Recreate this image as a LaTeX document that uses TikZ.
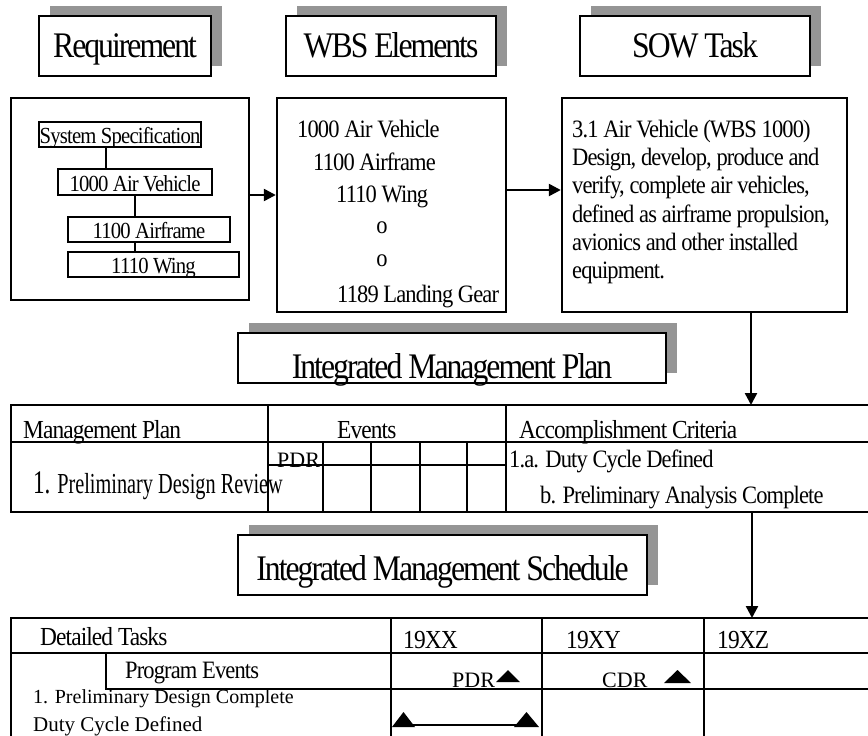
\documentclass[tikz,border=0pt]{standalone}
\usepackage{fontspec}
\setmainfont{Liberation Serif}[FakeStretch=0.9,LetterSpace=-3.5]
\newfontfamily\hdfont{Liberation Serif}[FakeStretch=0.88,LetterSpace=-5.5]
\newfontfamily\nfont{Liberation Serif}
\newfontfamily\cfont{Liberation Serif}[FakeStretch=0.7]
\usetikzlibrary{arrows.meta,shadows,calc}
\definecolor{shgray}{HTML}{959595}
\begin{document}
\begin{tikzpicture}[x=1pt,y=-1pt,
  hdr/.style={draw, line width=2.4pt, fill=white, inner sep=0pt,
    font=\hdfont\fontsize{36}{40}\selectfont,
    drop shadow={shadow xshift=10.5pt, shadow yshift=10.5pt, opacity=1, fill=shgray}},
  bigbox/.style={draw, line width=2.4pt, inner sep=0pt},
  minibox/.style={draw, line width=2pt, inner sep=0pt, font=\fontsize{23}{26}\selectfont,
    text height=18pt, text depth=0pt},
  txt/.style={inner sep=0pt, anchor=base west, font=\fontsize{25}{28}\selectfont},
  thd/.style={inner sep=0pt, anchor=base west, font=\fontsize{26}{28}\selectfont},
  ntxt/.style={inner sep=0pt, anchor=base west, font=\nfont\fontsize{22}{24}\selectfont},
  arr/.style={line width=2.4pt, -{Triangle[length=12pt,width=12pt]}},
  conn/.style={line width=2.4pt},
  grid/.style={line width=2.4pt, line cap=rect},
]
\useasboundingbox (0,0) rectangle (868,736);
\fill[white] (0,0) rectangle (868,736);

% header boxes
\node[hdr, minimum width=172pt, minimum height=60pt, text height=22pt, text depth=0pt] (req) at (125,46) {Requirement};
\node[hdr, minimum width=210pt, minimum height=60pt, text height=22pt, text depth=0pt] (wbs) at (391,46) {WBS Elements};
\node[hdr, minimum width=230pt, minimum height=60pt, text height=22pt, text depth=0pt] (sow) at (695,46) {SOW Task};

% content boxes
\node[bigbox, minimum width=238pt, minimum height=202pt] (reqbox) at (130,199) {};
\node[bigbox, minimum width=229pt, minimum height=214pt] (wbsbox) at (391.5,205) {};
\node[bigbox, minimum width=285pt, minimum height=214pt] (sowbox) at (704.5,205) {};

% requirement tree
\node[minibox, minimum width=162pt, minimum height=25pt] (ss) at (120,134.5) {System Specification};
\node[minibox, minimum width=154pt, minimum height=26pt] (av) at (135,182) {1000 Air Vehicle};
\node[minibox, minimum width=162pt, minimum height=25pt] (af) at (149,229.5) {1100 Airframe};
\node[minibox, minimum width=171pt, minimum height=25pt] (wing) at (153.5,264.5) {1110 Wing};
\coordinate (c1) at (106,0);
\coordinate (c2) at (135,0);
\draw[conn] (ss.south -| c1) -- (av.north -| c1);
\draw[conn] (av.south -| c2) -- (af.north -| c2);
\draw[conn] (af.south -| c2) -- (wing.north -| c2);

% arrows between boxes
\coordinate (y1) at (0,195);
\coordinate (y2) at (0,190);
\draw[arr] (reqbox.east |- y1) -- (wbsbox.west |- y1);
\draw[arr] (wbsbox.east |- y2) -- (sowbox.west |- y2);

% WBS text
\node[txt] (w1) at (297,137) {1000 Air Vehicle};
\node[txt] (w2) at (313,170) {1100 Airframe};
\node[txt] (w3) at (336,202) {1110 Wing};
\node[txt, anchor=base] (w4) at (382,233) {o};
\node[txt, anchor=base] (w5) at (382,266) {o};
\node[txt] (w6) at (337,302) {1189 Landing Gear};

% SOW text
\node[txt] (s1) at (572,137) {3.1 Air Vehicle (WBS 1000)};
\node[txt] (s2) at (572,165.3) {Design, develop, produce and};
\node[txt] (s3) at (572,193.6) {verify, complete air vehicles,};
\node[txt] (s4) at (572,222) {defined as airframe propulsion,};
\node[txt] (s5) at (572,250.3) {avionics and other installed};
\node[txt] (s6) at (572,278.6) {equipment.};

% IMP header
\node[hdr, minimum width=428pt, minimum height=50pt, text height=40pt, text depth=0pt] (imp) at (452,358) {Integrated Management Plan};

% arrow SOW -> IMP table
\coordinate (imptop) at (751,405);
\draw[arr] (sowbox.south -| imptop) -- (imptop);

% IMP table
\draw[grid] (11,405) -- (875,405) (11,442) -- (875,442) (11,512) -- (875,512)
  (11,405) -- (11,512) (268,405) -- (268,512) (506,405) -- (506,512) (268,465) -- (506,465);
\foreach \x in {323,371,420,467} \draw[grid] (\x,442) -- (\x,512);
\node[thd] (mp) at (23,438) {Management Plan};
\node[thd] (ev) at (337,438) {Events};
\node[thd] (ac) at (519,438) {Accomplishment Criteria};
\node[ntxt] (pdr1) at (277,467) {PDR};
\node[inner sep=0pt, anchor=base west, font=\cfont\fontsize{29}{32}\selectfont] (pdrv) at (33,493)
  {{\fontsize{33}{34}\selectfont 1.} Preliminary Design Review};
\node[txt] (ac1) at (509,467) {1.a. Duty Cycle Defined};
\node[txt] (ac2) at (540,503) {b. Preliminary Analysis Complete};

% IMS header
\node[hdr, minimum width=409pt, minimum height=60pt, text height=30pt, text depth=0pt] (ims) at (442.5,565) {Integrated Management Schedule};

% arrow IMP -> IMS
\coordinate (impbot) at (752,512);
\coordinate (imstop) at (752,618);
\draw[arr] (impbot) -- (imstop);

% IMS table
\draw[grid] (11,618) -- (875,618) (11,653) -- (875,653) (106,689) -- (875,689)
  (11,618) -- (11,745) (391,618) -- (391,745) (542,618) -- (542,745) (704,618) -- (704,745)
  (106,653) -- (106,689);
\node[thd] (dt) at (40,645) {Detailed Tasks};
\node[thd] (yx) at (403,648) {19XX};
\node[thd] (yy) at (566,648) {19XY};
\node[thd] (yz) at (717,648) {19XZ};
\node[txt] (pe) at (125,678) {Program Events};
\node[ntxt] (pdr2) at (452,687) {PDR};
\node[ntxt] (cdr) at (602,687) {CDR};
\fill (496,682) -- (520,682) -- (508,670) -- cycle;
\fill (664,683) -- (691,683) -- (677.5,670) -- cycle;
\node[ntxt, font=\nfont\fontsize{20}{22}\selectfont] (pdc) at (33,703) {1. Preliminary Design Complete};
\node[ntxt, font=\nfont\fontsize{21}{22}\selectfont] (dcd) at (33,731) {Duty Cycle Defined};
\draw[line width=2pt] (403,725) -- (526,725);
\fill (392,727) -- (415,727) -- (403.5,712) -- cycle;
\fill (514,727) -- (539,727) -- (526.5,712) -- cycle;
\end{tikzpicture}
\end{document}
